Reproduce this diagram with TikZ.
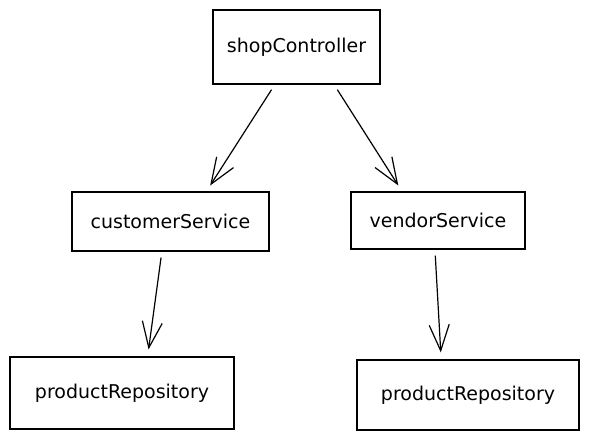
\documentclass[tikz,border=0pt]{standalone}
\usepackage{fontspec}
\setmainfont{DejaVu Sans}
\usetikzlibrary{arrows.meta}
\tikzset{
    box/.style={draw, line width=1.2pt, inner sep=0pt, font=\fontsize{19}{22}\selectfont},
    dep/.style={line width=1.2pt, -{Straight Barb[length=26pt,width=20pt,line width=1.2pt]}, shorten <=6pt, shorten >=7pt}
}
\begin{document}
\begin{tikzpicture}[x=1pt, y=-1pt]
                    \useasboundingbox (0,0) rectangle (589,443);
                    \node[box, minimum width=167pt, minimum height=74pt] (shop) at (296.5,47) {shopController};
                    \node[box, minimum width=197pt, minimum height=59pt] (cust) at (170.5,221.5) {customerService};
                    \node[box, minimum width=174pt, minimum height=57pt] (vend) at (438,220.5) {vendorService};
                    \node[box, minimum width=224pt, minimum height=72pt] (repoA) at (122,393) {productRepository};
                    \node[box, minimum width=222pt, minimum height=70pt] (repoB) at (468,395) {productRepository};
                    \draw[dep] (shop.-120) -- (cust.40.5);
                    \draw[dep] (shop.-45.4) -- (vend.141.9);
                    \draw[dep] (cust.-106) -- (repoA.55.9);
                    \draw[dep] (vend.-96) -- (repoB.127.6);
                \end{tikzpicture}
\end{document}
